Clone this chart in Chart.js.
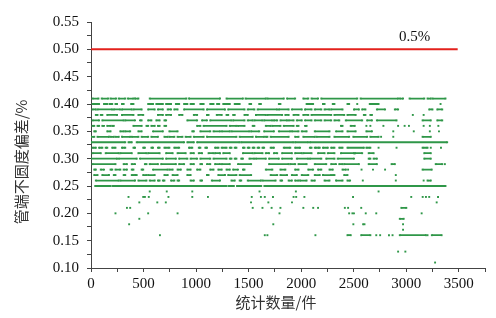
<!DOCTYPE html>
<html>
<head>
<meta charset="utf-8">
<script src="https://cdn.jsdelivr.net/npm/chart.js@4.4.1/dist/chart.umd.min.js"></script>
<style>
  body { margin: 0; background: #fff; }
</style>
</head>
<body>
<canvas id="grafico" width="496" height="318"></canvas>
<script>
// runs of points: [from, to] in item index, or [at] for a single dot
const r41 = [[15,71],[102,164],[186,239],[264,326],[351,404],[419,451],[559,908],[933,1228],[1290,1446],[1471,1664],[1679,1835],[1866,1943],[2021,2068],[2099,2161],[2192,2534],[2566,2923],[2939,2970],[3032,3172],[3203,3234],[3250,3374]];
const r40 = [[15,77],[124,155],[177,202],[233,248],[295,311],[382,404],[544,590],[622,684],[715,762],[808,839],[886,917],[948,979],[1041,1072],[1135,1166],[1200,1220],[1259,1321],[1368,1415],[1508,1524],[1601,1617],[1788,1803],[2052,2114],[2208,2223],[2301,2317],[2441,2457],[2534],[2653,2737],[3327]];
const r39 = [[15,46],[62,202],[217,279],[295,388],[404,482],[544,606],[637,684],[730,762],[793,824],[886,1072],[1104,1275],[1306,1461],[1492,1555],[1586,1772],[1788,1881],[1912,2006],[2037,2099],[2130,2192],[2223,2270],[2286,2394],[2503,2550],[2581,2612],[2721,2799],[2892,2923],[3219,3250],[3296,3343]];
const r38 = [[46,62],[93,108],[155,248],[295,404],[451,497],[637,684],[715,762],[839,870],[979,1010],[1104,1119],[1197,1244],[1290,1306],[1353,1368],[1461,1492],[1570,1664],[1679,1819],[1850,1881],[1928,1975],[2021,2068],[2099,2286],[2317,2410],[2441,2519],[2597,2612],[2659,2674],[3063],[3166]];
const r37 = [[15,77],[108,311],[326,419],[466,482],[544,575],[622,653],[699,715],[917,1010],[1057,1104],[1135,1337],[1353,1461],[1492,1539],[1555,1632],[1648,1726],[1741,1772],[1803,1866],[1881,1928],[1959,2006],[2037,2099],[2130,2192],[2223,2286],[2317,2363],[2425,2581],[2628,2674],[2721,2908],[3156,3234],[3296,3343]];
const r36 = [[15,31],[62,77],[108,124],[155,186],[202,217],[404,482],[528,544],[575,606],[637,653],[699,715],[1010,1041],[1072,1290],[1321,1384],[1399,1461],[1539,1555],[1664,1710],[1726,1803],[1835,1928],[1959,1975],[2037,2052],[2379,2394],[2472,2510],[2621],[2659],[2783],[2923],[2985],[3026],[3166],[3225],[3306]];
const r35 = [[31,46],[155,186],[279,311],[326,373],[451,482],[590,684],[746,824],[964,979],[1041,1135],[1166,1228],[1244,1321],[1337,1508],[1524,1601],[1648,1741],[1788,1897],[1912,1975],[2006,2052],[2130,2270],[2332,2394],[2441,2519],[2621,2674],[2877],[3072],[3225],[3312]];
const r34 = [[1,31],[62,171],[186,217],[233,264],[295,373],[388,451],[482,544],[575,637],[699,730],[746,793],[824,870],[901,948],[979,1072],[1104,1384],[1415,1539],[1570,1648],[1664,1679],[1710,1881],[1943,1975],[2021,2130],[2146,2270],[2317,2457],[2497,2628],[2659,2737],[2761],[2877],[3156,3234]];
const r33 = [[1,326],[357,388],[435,886],[917,979],[1010,1415],[1430,1928],[1943,2068],[2083,3390]];
const r32 = [[15,46],[77,108],[140,155],[202,233],[295,326],[404,419],[497,513],[575,590],[637,653],[699,746],[793,839],[933,964],[1026,1041],[1088,1104],[1181,1213],[1244,1290],[1321,1337],[1368,1384],[1446,1461],[1492,1508],[1539,1555],[1586,1601],[1632,1648],[1710,1741],[1835,1897],[1943,1990],[2083,2099],[2130,2146],[2161,2177],[2208,2254],[2286,2317],[2363,2394],[2441,2597],[2621,2659],[2737],[2908],[3156,3203],[3234],[3331]];
const r31 = [[15,93],[140,264],[279,388],[451,528],[544,653],[715,777],[824,901],[948,979],[1026,1057],[1119,1166],[1181,1228],[1259,1321],[1446,1539],[1555,1632],[1664,1695],[1741,1772],[1819,1912],[1943,2006],[2021,2099],[2161,2223],[2254,2317],[2379,2503],[2513,2581],[2643,2690],[3172,3234]];
const r30 = [[1,248],[264,435],[466,684],[715,808],[839,917],[948,1010],[1041,1135],[1166,1290],[1321,1337],[1368,1384],[1430,1446],[1508,1555],[1570,1664],[1695,1788],[1819,1912],[1959,2068],[2083,2192],[2239,2317],[2348,2503],[2643,2659],[2690,2721],[3172,3234]];
const r29 = [[15,233],[311,342],[388,419],[513,528],[559,637],[668,808],[839,886],[948,979],[1041,1057],[1104,1135],[1181,1228],[1244,1321],[1399,1524],[1695,1881],[1897,1943],[1975,2052],[2130,2239],[2286,2332],[2363,2394],[2410,2550],[2643,2721],[2861,2892],[3281,3343],[3368]];
const r28 = [[31,46],[93,124],[186,202],[233,279],[311,342],[388,404],[482,497],[590,730],[746,777],[824,855],[917,948],[1010,1041],[1135,1166],[1212,1244],[1290,1321],[1353,1399],[1446,1461],[1664,1726],[1803,1850],[1943,1975],[2068,2114],[2161,2192],[2270,2301],[2394,2426],[2447],[2575],[2684],[2799],[3156,3243]];
const r27 = [[31,62],[108,171],[217,233],[311,326],[388,404],[419,435],[497,528],[544,606],[699,730],[777,824],[917,948],[1104,1119],[1212,1275],[1306,1384],[1415,1524],[1710,1772],[1803,1866],[1912,1959],[2006,2068],[2130,2177],[2208,2286],[2301,2317],[2410,2441],[2901]];
const r26 = [[46,264],[279,419],[451,528],[559,606],[637,653],[684,699],[762,793],[824,839],[948,979],[1041,1057],[1150,1228],[1337,1368],[1415,1430],[1492,1617],[1632,1757],[1803,1819],[1881,1912],[1943,1975],[1990,2052],[2099,2130],[2223,2270],[2332,2394],[2441,2466],[2587],[2901],[3166],[3203,3234]];
const r25 = [[40,186],[205,1290],[1310,1360],[1390,1620],[1650,3374]];
const r24 = [[559],[721],[964],[1604],[1950],[2737]];
const r23 = [[357],[497],[513],[550],[737],[964],[1113],[1530],[1617],[1654],[1732],[1928],[1953],[2031],[2494],[3048],[3157],[3188],[3219],[3303]];
const r22 = [[460],[631],[712],[1523],[1688],[1913],[3290]];
const r21 = [[342],[373],[1539],[1632],[1719],[1803],[2021],[2115],[2161],[2416],[2447],[2572],[2954,3001]];
const r20 = [[233],[544],[824],[1794],[2457],[2488],[2503],[2615],[2715],[3147]];
const r19 = [[460],[2939,2976]];
const r18 = [[363],[1735],[2497],[2590],[2603],[2970]];
const r17 = [[2970]];
const r16 = [[656],[1654],[1679],[2136],[2441,2472],[2572,2659],[2715],[2752],[2836],[2870],[2939,3188],[3203],[3244,3337]];
const r13 = [[2923],[2992]];
const r11 = [[3275]];

const niveis = [0.41, 0.40, 0.39, 0.38, 0.37, 0.36, 0.35, 0.34, 0.33, 0.32, 0.31, 0.30, 0.29, 0.28, 0.27, 0.26, 0.25, 0.24, 0.23, 0.22, 0.21, 0.20, 0.19, 0.18, 0.17, 0.16, 0.13, 0.11];
const linhas = [r41, r40, r39, r38, r37, r36, r35, r34, r33, r32, r31, r30, r29, r28, r27, r26, r25, r24, r23, r22, r21, r20, r19, r18, r17, r16, r13, r11];

const limite = 0.5;
const limiteFim = 3490;
const limiteTexto = '0.5%';

const xTicks = [0, 500, 1000, 1500, 2000, 2500, 3000, 3500];
const yTicks = [0.10, 0.15, 0.20, 0.25, 0.30, 0.35, 0.40, 0.45, 0.50, 0.55];

// build the scatter points, null breaks between runs
const pontos = [];
niveis.forEach((nivel, i) => {
  linhas[i].forEach(run => {
    const a = run[0];
    const b = run.length > 1 ? run[1] : run[0];
    pontos.push({ x: a, y: nivel });
    if (b !== a) pontos.push({ x: b, y: nivel });
    pontos.push({ x: b, y: null });
  });
});

const verde = '#2f9748';
const fonteNum = '"Liberation Serif", "Times New Roman", serif';
const fonteCJK = '"Noto Sans CJK SC", sans-serif';

const textos = {
  id: 'textos',
  afterDraw(chart) {
    const ctx = chart.ctx;
    const sx = chart.scales.x, sy = chart.scales.y;
    ctx.save();
    ctx.fillStyle = '#111';
    ctx.font = '15px ' + fonteNum;
    ctx.textAlign = 'center';
    ctx.textBaseline = 'middle';
    ctx.fillText(limiteTexto, sx.getPixelForValue(3080), sy.getPixelForValue(0.522));

    ctx.fillStyle = '#333';
    ctx.font = '15px ' + fonteCJK;
    ctx.fillText('统计数量/件', 276, 302);

    ctx.translate(21, 162);
    ctx.rotate(-Math.PI / 2);
    ctx.fillText('管端不圆度偏差/%', 0, 0);
    ctx.restore();
  }
};

new Chart(document.getElementById('grafico'), {
  type: 'scatter',
  data: {
    datasets: [
      {
        data: pontos,
        showLine: true,
        spanGaps: false,
        borderColor: verde,
        borderWidth: 1.8,
        pointStyle: 'rect',
        pointRadius: 1.35,
        pointBorderWidth: 0,
        pointBackgroundColor: verde
      },
      {
        data: [{ x: 0, y: limite }, { x: limiteFim, y: limite }],
        showLine: true,
        borderColor: '#e3211c',
        borderWidth: 2,
        pointRadius: 0
      }
    ]
  },
  options: {
    responsive: false,
    animation: false,
    events: [],
    layout: { padding: { left: 0, top: 22, right: 11, bottom: 0 } },
    plugins: { legend: { display: false }, tooltip: { enabled: false } },
    scales: {
      x: {
        type: 'linear',
        min: 0,
        max: 3750,
        afterFit: s => { s.height = 50; },
        border: { display: true, color: '#444', width: 1 },
        grid: { drawOnChartArea: false, drawTicks: true, tickLength: 4, color: '#444' },
        ticks: {
          stepSize: 250,
          autoSkip: false,
          maxRotation: 0,
          padding: 3,
          color: '#111',
          font: { family: fonteNum, size: 15 },
          callback: v => xTicks.includes(v) ? String(v) : ''
        }
      },
      y: {
        type: 'linear',
        min: 0.10,
        max: 0.55,
        afterFit: s => { s.width = 91; },
        border: { display: true, color: '#444', width: 1 },
        grid: { drawOnChartArea: false, drawTicks: true, tickLength: 4, color: '#444' },
        ticks: {
          stepSize: 0.025,
          autoSkip: false,
          padding: 8,
          color: '#111',
          font: { family: fonteNum, size: 15 },
          callback: v => yTicks.some(t => Math.abs(t - v) < 1e-6) ? v.toFixed(2) : ''
        }
      }
    }
  },
  plugins: [textos]
});
</script>
</body>
</html>
